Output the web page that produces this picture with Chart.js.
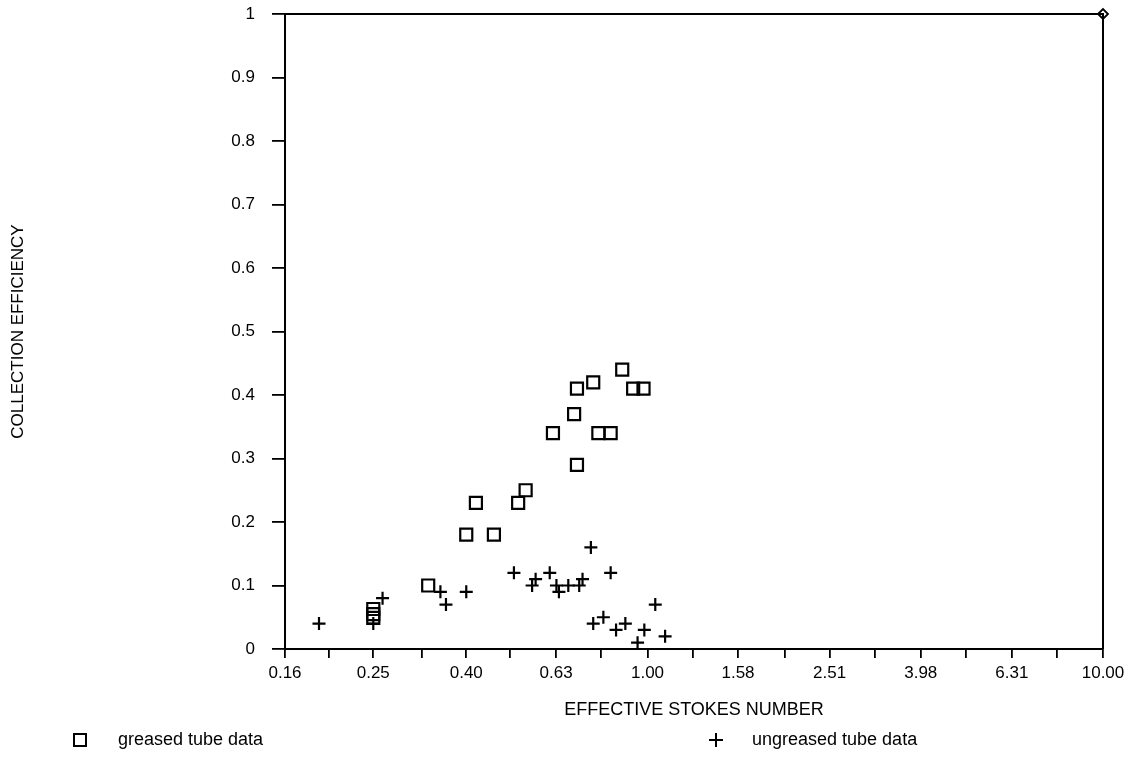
<!DOCTYPE html>
<html>
<head>
<meta charset="utf-8">
<script src="https://cdn.jsdelivr.net/npm/chart.js@4.4.1/dist/chart.umd.min.js"></script>
<style>
  html, body { margin: 0; padding: 0; background: #fff; }
  #wrap { width: 1132px; height: 763px; }
</style>
</head>
<body>
<div id="wrap"><canvas id="chart" width="1132" height="763"></canvas></div>
<script>
// --- Data ---
const greasedStokes = [0.25, 0.25, 0.25, 0.33, 0.40, 0.46, 0.42, 0.52, 0.54, 0.62, 0.69, 0.70, 0.70, 0.76, 0.78, 0.83, 0.88, 0.93, 0.98];
const greasedEff    = [0.063, 0.055, 0.049, 0.10, 0.18, 0.18, 0.23, 0.23, 0.25, 0.34, 0.37, 0.41, 0.29, 0.42, 0.34, 0.34, 0.44, 0.41, 0.41];

const ungreasedStokes = [0.19, 0.25, 0.262, 0.351, 0.361, 0.40, 0.509, 0.558, 0.568, 0.61, 0.631, 0.639, 0.67, 0.708, 0.72, 0.751, 0.76, 0.80, 0.83, 0.853, 0.894, 0.951, 0.984, 1.04, 1.093];
const ungreasedEff    = [0.04, 0.04, 0.08, 0.09, 0.07, 0.09, 0.12, 0.10, 0.11, 0.12, 0.10, 0.09, 0.10, 0.10, 0.11, 0.16, 0.04, 0.05, 0.12, 0.03, 0.04, 0.01, 0.03, 0.07, 0.02];

// corner marker at top right of the frame
const cornerStokes = [10];
const cornerEff = [1];

const majorTicks = [0.16, 0.25, 0.40, 0.63, 1.00, 1.58, 2.51, 3.98, 6.31, 10.00];
const majorLabels = ['0.16', '0.25', '0.40', '0.63', '1.00', '1.58', '2.51', '3.98', '6.31', '10.00'];
const minorTicks = [0.20, 0.32, 0.50, 0.79, 1.26, 2.00, 3.16, 5.01, 7.94];

const FONT = '"Liberation Sans", Arial, Helvetica, sans-serif';
const INK = '#000';

const toPoints = (xs, ys) => xs.map((x, i) => ({ x: x, y: ys[i] }));

// frame (top + right) and the legend row under the axis title
const framePlugin = {
    id: 'frame',
    afterDraw(chart) {
        const { ctx, chartArea: a } = chart;
        ctx.save();
        ctx.strokeStyle = INK;
        ctx.lineWidth = 2;
        ctx.beginPath();
        ctx.moveTo(a.left, a.top);
        ctx.lineTo(a.right, a.top);
        ctx.lineTo(a.right, a.bottom);
        ctx.stroke();

        // legend
        const ly = 740;
        ctx.lineWidth = 2;
        ctx.strokeRect(74, ly - 6, 12, 12);
        ctx.beginPath();
        ctx.moveTo(709, ly); ctx.lineTo(723, ly);
        ctx.moveTo(716, ly - 7); ctx.lineTo(716, ly + 7);
        ctx.stroke();
        ctx.fillStyle = INK;
        ctx.font = '18px ' + FONT;
        ctx.textBaseline = 'middle';
        ctx.textAlign = 'left';
        ctx.fillText('greased tube data', 118, ly);
        ctx.fillText('ungreased tube data', 752, ly);
        ctx.restore();
    }
};

const ctx = document.getElementById('chart');
new Chart(ctx, {
    type: 'scatter',
    data: {
        datasets: [
            {
                label: 'greased tube data',
                data: toPoints(greasedStokes, greasedEff),
                pointStyle: 'rect',
                pointRadius: 8.5,
                borderWidth: 2.2,
                borderColor: INK,
                backgroundColor: 'rgba(255,255,255,0)',
                clip: false
            },
            {
                label: 'ungreased tube data',
                data: toPoints(ungreasedStokes, ungreasedEff),
                pointStyle: 'cross',
                pointRadius: 6.5,
                borderWidth: 2.2,
                borderColor: INK,
                clip: false
            },
            {
                label: 'corner',
                data: toPoints(cornerStokes, cornerEff),
                pointStyle: 'rectRot',
                pointRadius: 5,
                borderWidth: 1.8,
                borderColor: INK,
                backgroundColor: '#fff',
                clip: false
            }
        ]
    },
    options: {
        responsive: false,
        animation: false,
        layout: { padding: { left: 0, right: 29, top: 14, bottom: 34 } },
        plugins: {
            legend: { display: false },
            tooltip: { enabled: false }
        },
        scales: {
            x: {
                type: 'logarithmic',
                min: 0.16,
                max: 10,
                afterFit(scale) { scale.height = 80; },
                afterBuildTicks(scale) {
                    scale.ticks = majorTicks.concat(minorTicks)
                        .sort((a, b) => a - b)
                        .map(v => ({ value: v }));
                },
                ticks: {
                    autoSkip: false,
                    maxRotation: 0,
                    padding: 5,
                    color: INK,
                    font: { family: FONT, size: 17 },
                    callback: (v) => {
                        const i = majorTicks.indexOf(v);
                        return i >= 0 ? majorLabels[i] : '';
                    }
                },
                grid: { drawOnChartArea: false, drawTicks: true, tickLength: 9, color: INK, lineWidth: 1.8 },
                border: { display: true, color: INK, width: 2 },
                title: {
                    display: true,
                    text: 'EFFECTIVE STOKES NUMBER',
                    color: INK,
                    font: { family: FONT, size: 18 },
                    padding: { top: 0, bottom: 8 }
                }
            },
            y: {
                min: 0,
                max: 1,
                afterFit(scale) {
                    scale.width = 285;
                    scale.paddingTop = 0;
                    scale.paddingBottom = 0;
                },
                ticks: {
                    stepSize: 0.1,
                    padding: 17,
                    color: INK,
                    font: { family: FONT, size: 17 },
                    callback: (v) => String(Math.round(v * 10) / 10)
                },
                grid: { drawOnChartArea: false, drawTicks: true, tickLength: 13, color: INK, lineWidth: 1.8 },
                border: { display: true, color: INK, width: 2 },
                title: {
                    display: true,
                    text: 'COLLECTION EFFICIENCY',
                    color: INK,
                    font: { family: FONT, size: 17 },
                    padding: { top: 8, bottom: 0 }
                }
            }
        }
    },
    plugins: [framePlugin]
});
</script>
</body>
</html>
